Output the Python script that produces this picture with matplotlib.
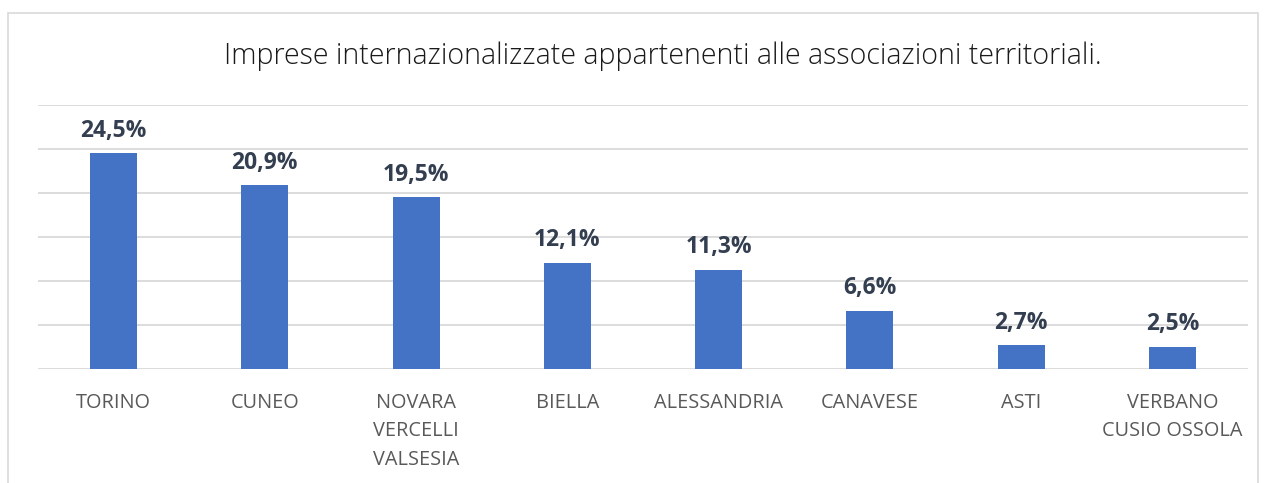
import matplotlib.pyplot as plt
from matplotlib.patches import Rectangle

categorie = ["TORINO", "CUNEO", "NOVARA\nVERCELLI\nVALSESIA", "BIELLA",
             "ALESSANDRIA", "CANAVESE", "ASTI", "VERBANO\nCUSIO OSSOLA"]
valori = [24.5, 20.9, 19.5, 12.1, 11.3, 6.6, 2.7, 2.5]
etichette = ["24,5%", "20,9%", "19,5%", "12,1%", "11,3%", "6,6%", "2,7%", "2,5%"]

plt.rcParams['font.family'] = ['Open Sans', 'DejaVu Sans']

fig = plt.figure(figsize=(12.66, 4.83), dpi=100)
# cornice del grafico
fig.patches.append(Rectangle((8/1266, -0.1), 1250/1266, 1.1 - 13/483,
                             transform=fig.transFigure, fill=False,
                             edgecolor="#d9d9d9", linewidth=1.2))

ax = fig.add_axes([38/1266, 1 - 369/483, 1210/1266, 264/483])
x = range(len(categorie))
ax.bar(x, valori, width=0.31, color="#4472c4", zorder=3)
for xi, v, lab in zip(x, valori, etichette):
    ax.text(xi, v + 1.2, lab, ha="center", va="bottom", fontsize=16.5,
            fontweight="bold", color="#333f50", zorder=4)

ax.set_xlim(-0.5, len(categorie) - 0.5)
ax.set_ylim(0, 30)
ax.set_yticks(range(0, 31, 5))
ax.yaxis.grid(True, color="#d9d9d9", linewidth=1.3, zorder=0)
ax.tick_params(axis="y", left=False, labelleft=False)
ax.set_xticks(list(x))
ax.set_xticklabels(categorie, fontsize=14.3, color="#595959", linespacing=1.58)
ax.tick_params(axis="x", length=0, pad=17)
for s in ax.spines.values():
    s.set_visible(False)

fig.text(663/1266, 1 - 56/483, "Imprese internazionalizzate appartenenti alle associazioni territoriali.",
         ha="center", va="center", fontsize=20.6, color="#1a1a1a", fontweight="light")

fig.savefig("out.png", dpi=100)
